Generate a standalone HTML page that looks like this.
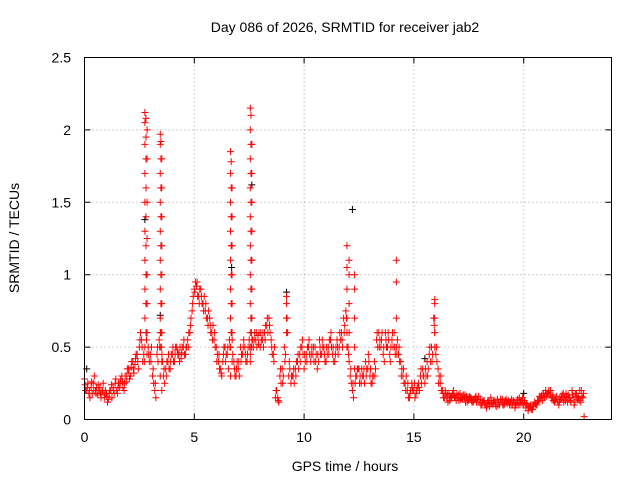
<!DOCTYPE html>
<html><head><meta charset="utf-8"><style>
html,body{margin:0;padding:0;background:#fff;}
svg{display:block;font-family:"Liberation Sans",sans-serif;}
</style></head><body>
<svg id="chart" width="640" height="480" viewBox="0 0 640 480">
<rect width="640" height="480" fill="#fff"/>
<text x="345" y="32" font-size="14" text-anchor="middle">Day 086 of 2026, SRMTID for receiver jab2</text>
<text x="19" y="238" font-size="14" text-anchor="middle" transform="rotate(-90 19 238)">SRMTID / TECUs</text>
<text x="345" y="471" font-size="14" text-anchor="middle">GPS time / hours</text>
<g id="grid"></g>
<g id="ticks"></g>
<g id="marks"></g>
<rect x="84.5" y="57.5" width="527" height="362" fill="none" stroke="#000" stroke-width="1"/>
</svg>
<script>
const xTicks = [0,5,10,15,20];
const yTicks = [0,0.5,1,1.5,2,2.5];
const yTickLabels = ["0","0.5","1","1.5","2","2.5"];
const baseStart = 0, baseStep = 0.1;
const baseValues = [
.28,.2,.18,.22,.25,.2,.17,.22,.19,.15,
.18,.14,.2,.22,.25,.18,.22,.3,.2,.26,
.35,.3,.4,.38,.45,.5,.55,.45,.6,.5,
.45,.3,.2,.45,.55,.5,.3,.35,.4,.35,
.45,.4,.5,.45,.42,.5,.45,.55,.6,.75,
.9,.92,.85,.9,.8,.75,.7,.7,.6,.55,
.5,.4,.35,.4,.5,.45,.55,.6,.4,.3,
.35,.5,.45,.5,.4,.55,.6,.5,.55,.58,
.5,.55,.6,.65,.7,.55,.45,.15,.15,.3,
.35,.5,.8,.3,.25,.3,.35,.4,.45,.5,
.35,.45,.5,.4,.45,.5,.35,.55,.45,.5,
.4,.5,.55,.45,.4,.55,.5,.6,.7,.75,
.5,.3,.2,.35,.3,.35,.25,.3,.4,.35,
.3,.25,.4,.55,.6,.5,.45,.6,.5,.45,
.55,.6,.5,.45,.4,.3,.25,.2,.15,.25,
.2,.18,.25,.3,.35,.25,.4,.45,.5,.7,
.45,.35,.25,.2,.15,.15,.18,.15,.2,.15,
.15,.18,.14,.15,.16,.13,.15,.12,.15,.14,
.12,.1,.13,.08,.12,.15,.1,.12,.14,.1,
.12,.1,.14,.13,.12,.1,.08,.12,.15,.13,
.1,.08,.06,.1,.07,.12,.1,.13,.15,.18,
.2,.18,.17,.15,.12,.16,.1,.14,.18,.13,
.12,.15,.2,.1,.18,.15,.12,.15];
const secondValues = [
.2,.25,.15,.18,.3,.22,.2,.15,.25,.2,
.12,.2,.15,.18,.2,.25,.28,.22,.3,.35,
.28,.4,.32,.45,.35,.6,.4,.5,.45,.4,
.5,.25,.15,.4,.6,.4,.25,.4,.35,.45,
.4,.5,.45,.5,.5,.45,.5,.6,.7,.85,
.95,.85,.9,.8,.85,.7,.75,.6,.65,.5,
.45,.35,.3,.5,.45,.35,.5,.45,.3,.4,
.3,.45,.55,.4,.5,.45,.55,.6,.5,.6,
.55,.5,.65,.6,.6,.45,.5,.2,.12,.25,
.3,.45,.6,.35,.3,.25,.4,.35,.5,.45,
.4,.5,.45,.5,.4,.45,.4,.45,.5,.4,
.45,.55,.5,.4,.5,.45,.55,.5,.65,.6,
.4,.25,.15,.3,.35,.3,.3,.25,.35,.4,
.25,.3,.35,.5,.55,.6,.4,.5,.55,.5,
.5,.45,.55,.4,.35,.25,.3,.15,.2,.2,
.15,.22,.2,.25,.3,.3,.35,.4,.45,.6,
.4,.3,.2,.15,.18,.12,.15,.18,.15,.17,
.13,.15,.17,.12,.14,.15,.12,.14,.12,.16,
.1,.13,.1,.12,.09,.12,.13,.09,.12,.14,
.1,.13,.11,.1,.14,.12,.1,.1,.12,.15,
.12,.1,.08,.07,.09,.1,.13,.15,.13,.16,
.18,.2,.15,.13,.14,.12,.14,.17,.15,.16,
.15,.12,.15,.18,.14,.2,.16,.02];
const thirdValues = [
.24,.22,.2,.26,.2,.18,.24,.18,.2,.17,
.16,.18,.24,.2,.28,.22,.25,.26,.25,.3,
.32,.36,.35,.42,.4,.55,.5,.4,.55,.45,
.4,.35,.25,.5,.5,.45,.35,.3,.45,.4,
.5,.45,.48,.4,.46,.55,.5,.5,.65,.8,
.88,.95,.8,.85,.75,.8,.65,.65,.55,.6,
.4,.45,.32,.45,.4,.5,.5,.55,.35,.35,
.4,.4,.5,.45,.45,.5,.55,.55,.6,.52,
.6,.6,.55,.7,.65,.5,.4,.2,.13,.35,
.25,.4,.7,.4,.3,.35,.3,.45,.4,.55,
.45,.4,.55,.45,.5,.4,.45,.5,.55,.45,
.5,.45,.6,.5,.45,.5,.6,.55,.6,.7,
.45,.35,.25,.25,.35,.25,.35,.35,.3,.45,
.35,.3,.3,.6,.5,.55,.5,.55,.6,.4,
.6,.5,.45,.5,.3,.35,.2,.25,.18,.22,
.25,.2,.22,.35,.3,.35,.3,.5,.4,.65,
.5,.25,.3,.18,.2,.17,.13,.16,.17,.13,
.17,.14,.15,.17,.12,.16,.13,.13,.16,.12,
.14,.12,.11,.1,.13,.11,.12,.1,.1,.12,
.14,.11,.12,.12,.1,.13,.11,.14,.1,.11,
.13,.11,.09,.09,.1,.11,.12,.16,.17,.15,
.16,.19,.2,.17,.13,.14,.12,.15,.12,.18,
.17,.13,.17,.12,.16,.13,.2,.18];
const spikeTimes = [2.75,2.75,2.75,2.75,2.75,2.75,2.75,2.75,2.75,2.85,2.85,2.85,2.85,2.85,2.85,2.85,
2.8,2.8,2.8,2.8,2.8,2.8,2.8,2.8,
3.45,3.45,3.45,3.45,3.45,3.45,3.45,3.45,3.45,3.45,3.52,3.52,3.52,3.52,3.52,3.52,3.52,3.52,3.52,
3.48,3.48,3.48,3.48,3.48,3.48,3.48,3.48,
6.65,6.65,6.65,6.65,6.65,6.65,6.65,6.65,6.65,6.72,6.72,6.72,6.72,6.72,6.72,6.72,
6.68,6.68,6.68,6.68,6.68,6.68,6.68,
7.55,7.55,7.55,7.55,7.55,7.55,7.55,7.55,7.55,7.55,7.62,7.62,7.62,7.62,7.62,7.62,7.62,7.62,
7.58,7.58,7.58,7.58,7.58,7.58,7.58,7.58,7.58,
9.2,9.2,9.2,11.95,11.95,11.95,11.95,11.95,12.05,12.05,12.05,12.05,12.3,12.3,12.3,12.3,
14.2,14.2,14.2,15.95,15.95,15.95,15.95,15.95];
const spikeValues = [.7,.9,1.1,1.3,1.5,1.7,1.9,2.05,2.12,.6,.8,1.0,1.25,1.5,1.8,2.0,
.8,1.0,1.2,1.4,1.6,1.8,1.95,2.08,
.3,.5,.7,.9,1.1,1.3,1.5,1.7,1.9,1.97,.2,.4,.6,.8,1.0,1.2,1.4,1.6,1.8,
.6,.8,1.0,1.2,1.4,1.6,1.8,1.92,
.3,.5,.7,.9,1.1,1.3,1.5,1.7,1.85,.4,.6,.8,1.0,1.2,1.4,1.6,
.6,.8,1.0,1.2,1.4,1.6,1.78,
.4,.6,.8,1.0,1.2,1.4,1.6,1.8,2.0,2.15,.5,.7,.9,1.1,1.3,1.5,1.7,1.9,
.5,.7,.9,1.1,1.3,1.5,1.7,1.9,2.1,
.6,.7,.85,.5,.7,.9,1.05,1.2,.6,.8,1.0,1.1,.5,.7,.9,1.0,
.7,.95,1.1,.5,.6,.7,.8,.83];
const blackTimes = [12.2,2.75,3.45,7.62,6.7,9.2,0.1,15.5,20];
const blackValues = [1.45,1.38,0.72,1.62,1.05,0.88,0.35,0.42,0.18];

const X0=84.5, XPX=21.96, Y0=419.5, YPX=144.8;
const sx = t => X0 + t*XPX;
const sy = v => Y0 - v*YPX;
const NS="http://www.w3.org/2000/svg";
const grid=document.getElementById('grid'), ticks=document.getElementById('ticks'), marks=document.getElementById('marks');
function mk(tag,attrs,parent){const e=document.createElementNS(NS,tag);for(const k in attrs)e.setAttribute(k,attrs[k]);parent.appendChild(e);return e;}
xTicks.forEach(t=>{
  const x=sx(t);
  if(t>0){const g=mk('line',{x1:x,x2:x,y1:57.5,y2:419.5,stroke:'#a0a0a0','stroke-dasharray':'1,3'},grid);
  
  }
  const a=mk('path',{d:`M${x} 419.5v-6M${x} 57.5v6`,stroke:'#000'},ticks);
  
  
  const l=mk('text',{x:x,y:442,'font-size':'14','text-anchor':'middle'},ticks);l.textContent=t;
  
  
});
yTicks.forEach((v,i)=>{
  const y=sy(v);
  if(v>0&&v<2.5){const g=mk('line',{x1:84.5,x2:611.5,y1:y,y2:y,stroke:'#a0a0a0','stroke-dasharray':'1,3'},grid);
  
  }
  const a=mk('path',{d:`M84.5 ${y}h6M611.5 ${y}h-6`,stroke:'#000'},ticks);
  
  
  const l=mk('text',{x:71,y:y+5,'font-size':'14','text-anchor':'end'},ticks);l.textContent=yTickLabels[i];
  
  
});
function plus(t,v,color,name){
  const x=sx(t),y=sy(v);
  const p=mk('path',{d:`M${x-3.5} ${y}h7M${x} ${y-3.5}v7`,stroke:color,'stroke-width':'1'},marks);
  
  
}
blackTimes.forEach((t,i)=>plus(t,blackValues[i],'#000','black-point'));
baseValues.forEach((v,i)=>plus(baseStart+i*baseStep,v,'#ff0000','srmtid-point'));
secondValues.forEach((v,i)=>plus(baseStart+i*baseStep+0.05,v,'#ff0000','srmtid-point'));
thirdValues.forEach((v,i)=>plus(baseStart+i*baseStep+0.025,v,'#ff0000','srmtid-point'));
spikeTimes.forEach((t,i)=>plus(t,spikeValues[i],'#ff0000','spike-point'));
</script>
</body></html>
